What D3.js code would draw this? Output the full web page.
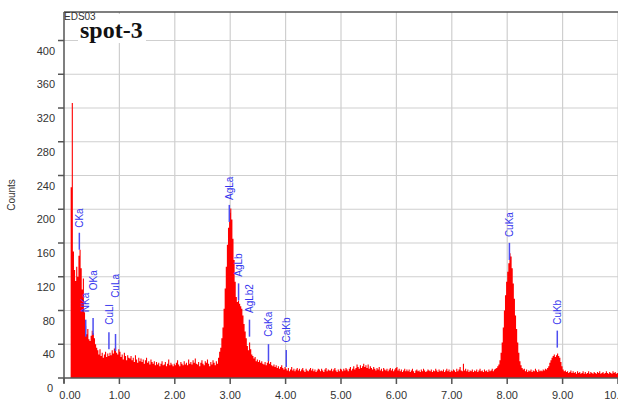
<!DOCTYPE html>
<html><head><meta charset="utf-8">
<script src="https://cdn.jsdelivr.net/npm/d3@7"></script>
<style>body{margin:0;background:#fff;overflow:hidden}</style>
</head><body>
<script>
// ---- data ----
const energyStep = 0.02; // keV per channel
const counts = [
0,0,0,0,0,0,226,326,150,128,
115,132,120,145,152,130,105,118,78,62,
52,58,46,44,50,56,53,47,40,36,
33,28,34,26,30,24,28,31,25,29,
26,30,27,33,29,35,37,30,28,34,
31,25,28,22,30,26,21,27,24,23,
26,21,24,19,27,22,18,24,20,23,
19,22,17,21,24,18,20,16,22,19,
17,20,15,19,16,18,14,17,20,15,
16,19,14,17,22,15,18,16,14,17,
15,18,21,16,14,19,17,15,20,16,
18,15,22,17,19,16,21,18,23,17,
16,19,14,18,21,17,15,20,18,22,
17,14,19,16,21,18,15,20,17,24,
31,36,47,60,82,106,132,158,178,196,
201,188,165,140,114,96,90,92,88,85,
82,74,64,55,47,38,33,42,34,28,
26,23,25,20,22,19,21,18,20,17,
16,19,15,18,21,17,19,15,14,16,
13,15,12,14,11,13,15,12,10,13,
11,9,12,8,10,13,9,11,8,10,
12,9,11,8,10,12,9,7,11,9,
8,10,12,9,11,8,10,7,9,11,
10,8,11,9,7,10,12,8,10,9,
9,11,8,10,12,9,7,10,8,11,
10,8,11,9,12,10,8,11,13,9,
11,14,10,12,16,13,11,15,12,14,
17,13,15,12,16,11,14,12,10,13,
11,9,12,10,13,9,11,8,12,10,
9,11,8,10,12,9,11,8,10,12,
13,9,11,8,10,7,9,11,8,10,
8,10,7,9,11,8,6,9,10,8,
9,7,10,8,11,9,7,8,10,9,
8,10,7,9,8,11,9,7,10,8,
9,8,10,7,9,11,8,10,7,9,
8,10,9,7,11,8,10,13,9,8,
17,9,11,8,10,7,9,8,10,7,
9,8,10,7,9,11,8,9,7,10,
8,9,7,10,8,9,11,8,10,11,
12,14,16,21,30,42,60,80,98,114,
126,136,148,144,130,112,94,74,58,42,
30,20,15,12,10,11,8,10,7,9,
8,10,7,9,8,11,9,7,10,8,
9,8,10,9,11,10,12,14,18,21,
24,26,28,25,27,29,26,24,19,14,
10,8,9,7,8,6,7,9,6,8,
6,7,5,8,6,7,5,6,8,5,
7,5,6,8,5,7,6,5,7,6,
5,7,6,8,5,6,7,5,6,8,
6,5,7,6,5,8,6,7,5,6
];
const xTicks = [0,1,2,3,4,5,6,7,8,9,10];
const xTickLabels = ["0.00","1.00","2.00","3.00","4.00","5.00","6.00","7.00","8.00","9.00","10.00"];
const yTicks = [0,40,80,120,160,200,240,280,320,360,400];
const peakNames    = ["CKa","NKa","OKa","CuLl","CuLa","AgLa","AgLb","AgLb2","CaKa","CaKb","CuKa","CuKb"];
const peakEnergies = [0.277,0.392,0.525,0.811,0.930,2.984,3.151,3.348,3.691,4.012,8.040,8.904];
const markerCounts = [152,49,51,34,32,185,92,49,20,13,140,36];   // count at marker foot
const labelCounts  = [178,78,104,63,95,211,120,77,49,42,167,63]; // count where label text begins
const yMax = 433.8;
const title = "spot-3", fileTag = "EDS03", yTitle = "Counts";

// ---- drawing ----
const W = 618, H = 402;
const L = 64, T = 12, R = 618, B = 378;
const svg = d3.select("body").append("svg").attr("width", W).attr("height", H)
  .style("font-family", "'Liberation Sans', Arial, sans-serif");
const x = d3.scaleLinear().domain([0, 10]).range([L, R]);
const y = d3.scaleLinear().domain([0, yMax]).range([B, T]);

// grid
const g = svg.append("g");
g.selectAll("line.gy").data(yTicks.filter(v => v > 0)).join("line")
  .attr("x1", L).attr("x2", R).attr("y1", d => y(d)).attr("y2", d => y(d))
  .attr("stroke", "#cfcfcf").attr("stroke-width", 1.2);
g.selectAll("line.gx").data(xTicks.filter(v => v > 0)).join("line")
  .attr("x1", d => x(d)).attr("x2", d => x(d)).attr("y1", T).attr("y2", B)
  .attr("stroke", "#cfcfcf").attr("stroke-width", 1.2);

// spectrum
const pts = counts.map((c, i) => [i * energyStep, c]);
pts.push([counts.length * energyStep, counts[counts.length - 1]]);
svg.append("clipPath").attr("id", "clip").append("rect")
  .attr("x", L).attr("y", T).attr("width", R - L).attr("height", B - T);
svg.append("path").datum(pts).attr("clip-path", "url(#clip)")
  .attr("fill", "#ff0000")
  .attr("d", d3.area().curve(d3.curveStepAfter)
    .x(d => x(d[0])).y0(y(0)).y1(d => y(d[1])));

// title backing box (hides grid behind title)
svg.append("rect").attr("x", 78).attr("y", 14).attr("width", 68).attr("height", 29).attr("fill", "#fff");

// axes frame
const ax = svg.append("g").attr("stroke", "#555").attr("stroke-width", 1.5);
ax.append("line").attr("x1", L).attr("x2", L).attr("y1", T).attr("y2", B + 5);
ax.append("line").attr("x1", L).attr("x2", R).attr("y1", B).attr("y2", B);
ax.append("line").attr("x1", L).attr("x2", R).attr("y1", T).attr("y2", T);
ax.selectAll("line.ty").data(yTicks).join("line")
  .attr("x1", L - 6).attr("x2", L).attr("y1", d => y(d)).attr("y2", d => y(d));
ax.selectAll("line.tx").data(xTicks).join("line")
  .attr("x1", d => x(d)).attr("x2", d => x(d)).attr("y1", B).attr("y2", B + 6);

// tick labels
svg.selectAll("text.yl").data(yTicks).join("text")
  .attr("x", d => d === 0 ? 53 : 55).attr("y", d => y(d) + 14)
  .attr("text-anchor", "end").attr("font-size", 11).attr("fill", "#333")
  .text(d => d);
svg.selectAll("text.xl").data(xTicks).join("text")
  .attr("x", (d, i) => x(d) + (i === 0 ? 6 : 0)).attr("y", 399)
  .attr("text-anchor", "middle").attr("font-size", 11).attr("fill", "#333")
  .text((d, i) => xTickLabels[i]);

// axis title
svg.append("text").attr("transform", "translate(15,195) rotate(-90)")
  .attr("text-anchor", "middle").attr("font-size", 10).attr("fill", "#333").text(yTitle);

// peak markers
const pk = svg.append("g");
peakNames.forEach((n, i) => {
  const px = x(peakEnergies[i]);
  const yb = y(markerCounts[i]);
  pk.append("line").attr("x1", px).attr("x2", px).attr("y1", yb).attr("y2", yb - 17)
    .attr("stroke", "#4d4df0").attr("stroke-width", 1.5);
  pk.append("text").attr("transform", `translate(${px + 3.6},${y(labelCounts[i])}) rotate(-90)`)
    .attr("text-anchor", "start").attr("font-size", 10).attr("fill", "#3535ee").text(n);
});

// tag and title
svg.append("text").attr("x", 64).attr("y", 20).attr("font-size", 10).attr("fill", "#333").text(fileTag);
svg.append("text").attr("x", 80).attr("y", 38)
  .attr("font-family", "'Liberation Serif', 'Times New Roman', serif")
  .attr("font-weight", "bold").attr("font-size", 24).attr("fill", "#111").text(title);
</script>
</body></html>
